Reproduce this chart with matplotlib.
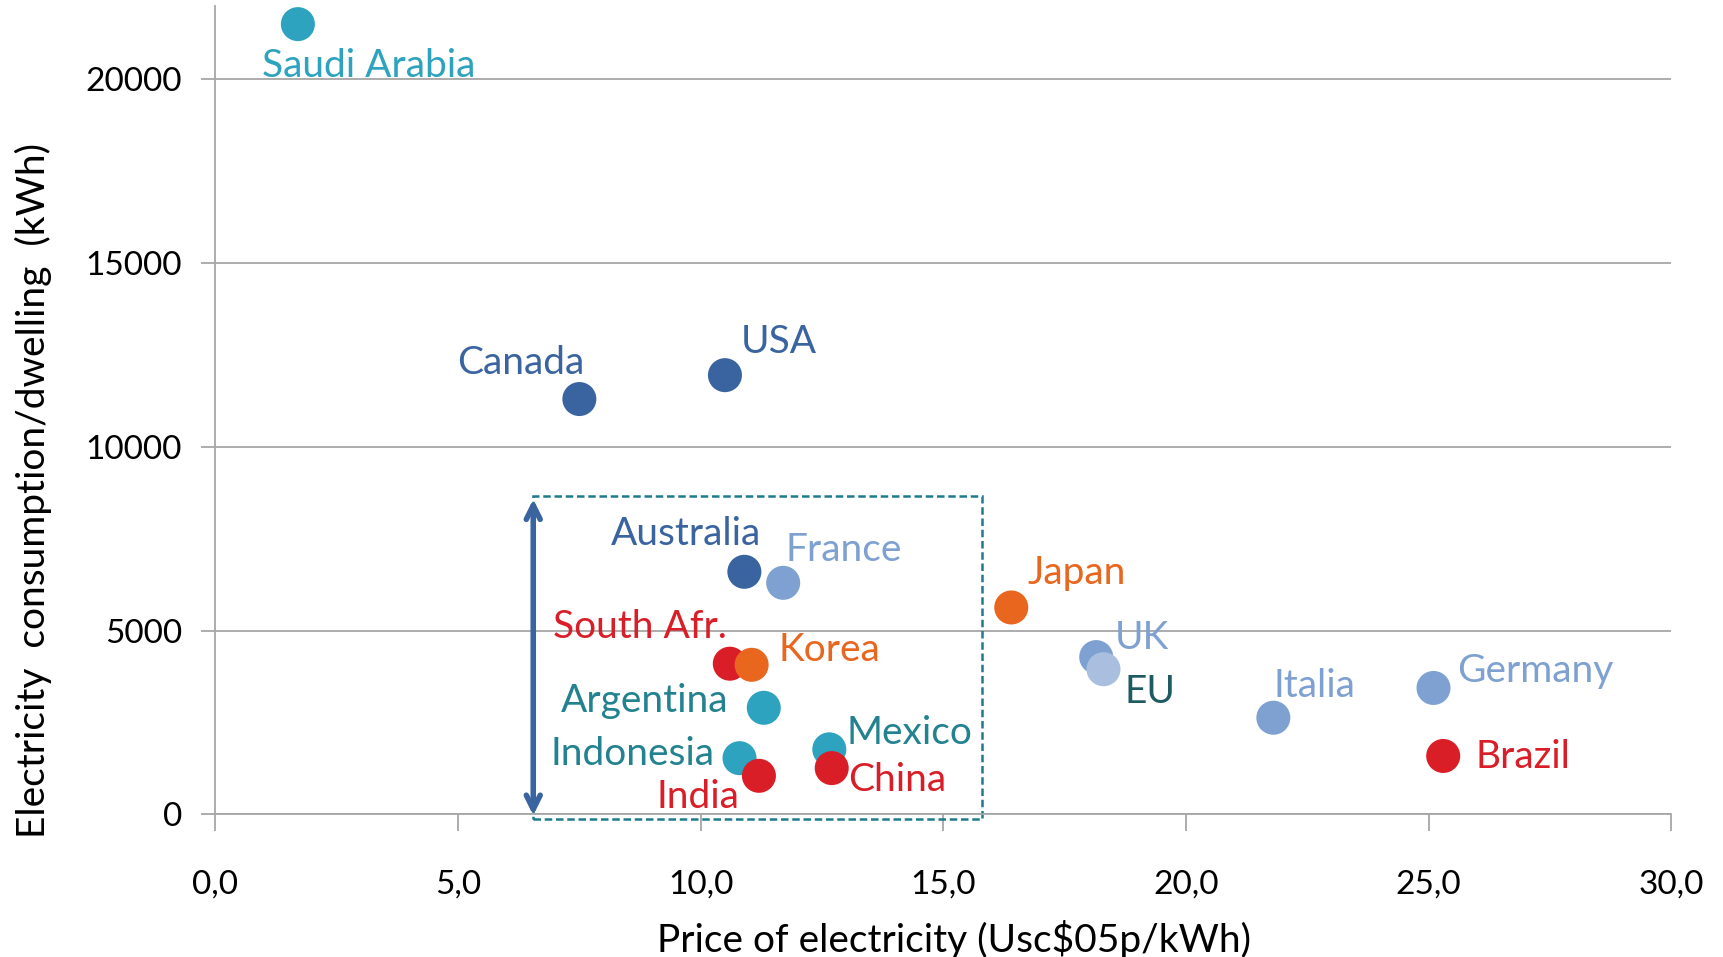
import numpy as np
import matplotlib.pyplot as plt
from matplotlib.patches import Rectangle

plt.rcParams['font.family'] = ['Lato', 'DejaVu Sans']

# data
countries = ["Saudi Arabia", "Canada", "USA", "Australia", "France", "Japan",
             "South Afr.", "Korea", "Argentina", "Indonesia", "India", "Mexico",
             "China", "UK", "EU", "Italia", "Germany", "Brazil"]
price = [1.7, 7.5, 10.5, 10.9, 11.7, 16.4, 10.6, 11.05, 11.3, 10.8, 11.2, 12.65,
         12.7, 18.15, 18.3, 21.8, 25.1, 25.3]
consumption = [21500, 11300, 11950, 6600, 6300, 5630, 4100, 4070, 2900, 1530,
               1050, 1770, 1260, 4280, 3950, 2630, 3440, 1590]
label_x = [3.15, 6.3, 11.6, 9.7, 12.95, 17.75, 8.75, 12.65, 8.85, 8.6, 9.95,
           14.3, 14.05, 19.1, 19.25, 22.65, 27.2, 26.95]
label_y = [20350, 12280, 12850, 7640, 7190, 6560, 5090, 4460, 3090, 1650, 480,
           2220, 930, 4790, 3320, 3500, 3890, 1560]

TEAL = "#2ea3bf"
DBLUE = "#3a64a0"
LBLUE = "#7ea1d1"
EUBLUE = "#aabfe0"
ORANGE = "#e8661e"
RED = "#da1e28"
dot_colors = [TEAL, DBLUE, DBLUE, DBLUE, LBLUE, ORANGE, RED, ORANGE, TEAL, TEAL,
              RED, TEAL, RED, LBLUE, EUBLUE, LBLUE, LBLUE, RED]
text_colors = [TEAL, DBLUE, DBLUE, DBLUE, LBLUE, ORANGE, RED, ORANGE, "#23828f",
               "#23828f", RED, "#23828f", RED, LBLUE, "#1d5a62", LBLUE, LBLUE, RED]

box_x = [6.55, 15.8]
box_y = [-120, 8650]

fig = plt.figure(figsize=(17.23, 9.57), dpi=100)
ax = fig.add_axes([0.125, 0.149, 0.845, 0.845])

ax.set_xlim(0, 30)
ax.set_ylim(0, 22000)
ax.set_xticks(np.arange(0, 31, 5))
ax.set_xticklabels([f"{v:.1f}".replace(".", ",") for v in np.arange(0, 31, 5)])
ax.set_yticks([0, 5000, 10000, 15000, 20000])
ax.grid(axis="y", color="#a6a6a6", linewidth=1.3)
ax.set_axisbelow(True)
for s in ["top", "right"]:
    ax.spines[s].set_visible(False)
for s in ["left", "bottom"]:
    ax.spines[s].set_color("#a6a6a6")
    ax.spines[s].set_linewidth(1.3)
ax.tick_params(axis="x", length=12, width=1.3, color="#a6a6a6", pad=28, labelsize=24)
ax.tick_params(axis="y", length=10, width=1.3, color="#a6a6a6", pad=14, labelsize=24)

# dashed box and range arrow
ax.add_patch(Rectangle((box_x[0], box_y[0]), box_x[1] - box_x[0], box_y[1] - box_y[0],
                       fill=False, ec="#1f7a8c", ls=(0, (3, 1.5)), lw=1.8,
                       clip_on=False, zorder=2))
ax.annotate("", xy=(box_x[0], box_y[1]), xytext=(box_x[0], box_y[0] + 20),
            arrowprops=dict(arrowstyle="<->,head_length=1.0,head_width=0.5",
                            color=DBLUE, lw=4), annotation_clip=False, zorder=3)

ax.scatter(price, consumption, s=600, c=dot_colors, linewidths=0, zorder=4, clip_on=False)
for name, lx, ly, col in zip(countries, label_x, label_y, text_colors):
    ax.text(lx, ly, name, color=col, fontsize=28, ha="center", va="center", zorder=5)

ax.set_xlabel("Price of electricity (Usc$05p/kWh)", fontsize=28, labelpad=12)
ax.xaxis.set_label_coords(0.507, -0.13)
ax.set_ylabel("Electricity  consumption/dwelling  (kWh)", fontsize=28)
ax.yaxis.set_label_coords(-0.112, 0.40)

fig.savefig("out.png", dpi=100)
